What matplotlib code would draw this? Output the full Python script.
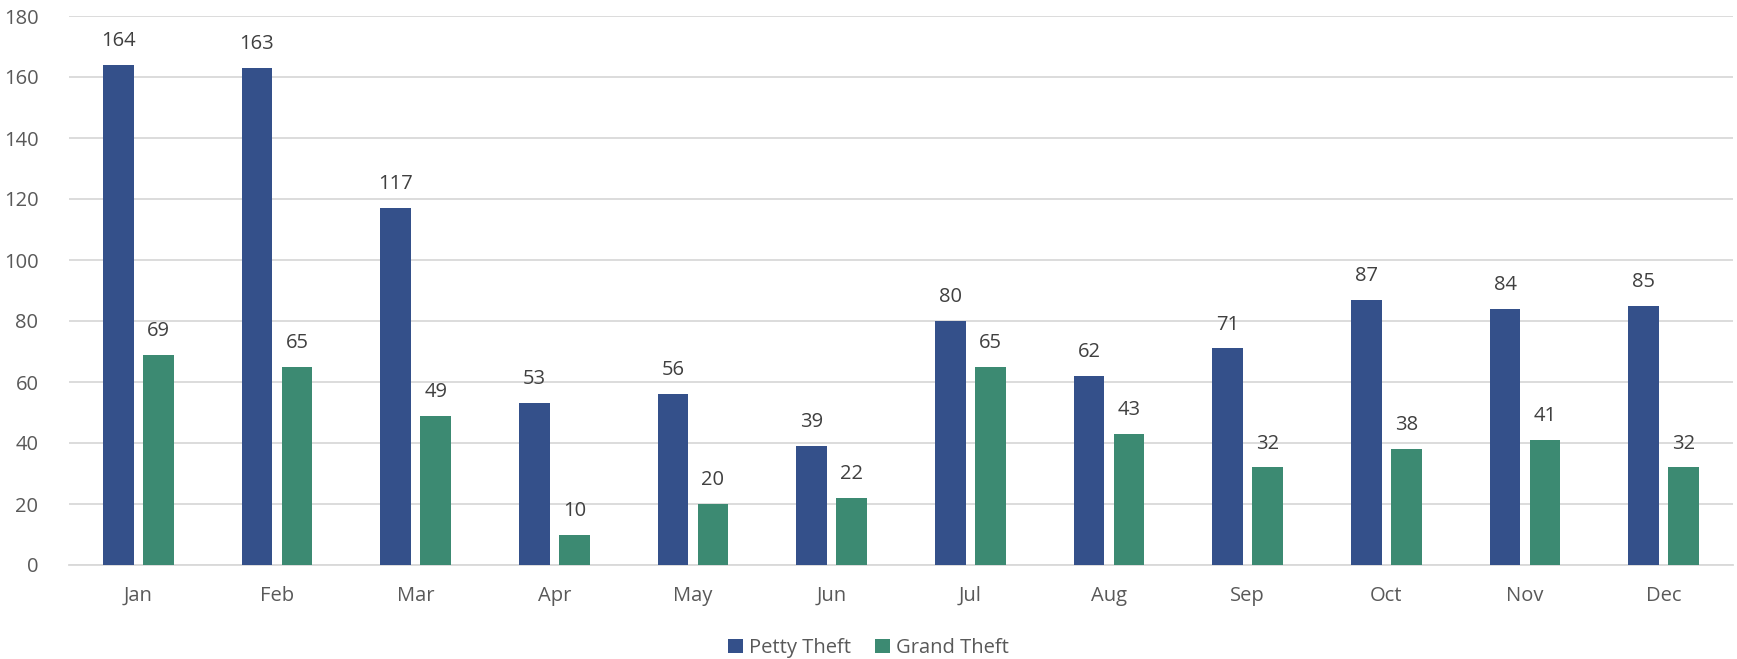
import matplotlib
matplotlib.use("Agg")
import matplotlib.pyplot as plt
import numpy as np

months = ["Jan", "Feb", "Mar", "Apr", "May", "Jun", "Jul", "Aug", "Sep", "Oct", "Nov", "Dec"]
petty = [164, 163, 117, 53, 56, 39, 80, 62, 71, 87, 84, 85]
grand = [69, 65, 49, 10, 20, 22, 65, 43, 32, 38, 41, 32]
series_names = ["Petty Theft", "Grand Theft"]
yticks = [0, 20, 40, 60, 80, 100, 120, 140, 160, 180]

plt.rcParams['font.family'] = ['Open Sans', 'DejaVu Sans']

fig = plt.figure(figsize=(17.37, 6.59), dpi=100)
ax = fig.add_axes([69/1737, 1-565/659, (1733-69)/1737, (565-16)/659])

x = np.arange(len(months))
w = 0.223
gap = 0.065
c1 = "#34508A"
c2 = "#3C8A72"
b1 = ax.bar(x - (w+gap)/2, petty, w, color=c1, label=series_names[0], zorder=3)
b2 = ax.bar(x + (w+gap)/2, grand, w, color=c2, label=series_names[1], zorder=3)

for bars, vals in ((b1, petty), (b2, grand)):
    for b, v in zip(bars, vals):
        ax.annotate(str(v), (b.get_x()+b.get_width()/2, v), xytext=(0, 10),
                    textcoords="offset points", ha="center", va="bottom",
                    fontsize=14.5, color="#404040")

ax.set_xlim(-0.5, len(months)-0.5)
ax.set_ylim(0, 180)
ax.set_yticks(yticks)
ax.set_xticks(x)
ax.set_xticklabels(months)
ax.tick_params(axis='both', length=0, labelsize=14.5, labelcolor="#595959")
ax.tick_params(axis='x', pad=15)
ax.tick_params(axis='y', pad=22)
ax.grid(axis='y', color="#D9D9D9", linewidth=1.3, zorder=0)
for s in ["top", "right", "left"]:
    ax.spines[s].set_visible(False)
ax.spines["bottom"].set_color("#D9D9D9")
ax.spines["bottom"].set_linewidth(1.3)

leg = fig.legend(handles=[b1, b2], loc="center", bbox_to_anchor=(0.5, 1-648/659),
                 ncol=2, frameon=False, fontsize=14.5, handlelength=0.75, handleheight=0.75,
                 handletextpad=0.3, columnspacing=1.2, labelcolor="#595959")

fig.savefig("out.png", dpi=100)
